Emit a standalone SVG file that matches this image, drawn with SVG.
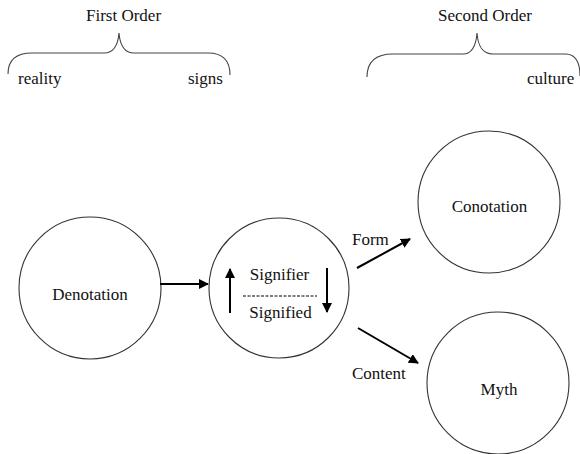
<svg xmlns="http://www.w3.org/2000/svg" width="580" height="454" viewBox="0 0 580 454" font-family="Liberation Serif, Times New Roman, DejaVu Serif, serif">
<style>
text{font-size:17px;fill:#111}
.c{fill:#fff;stroke:#333;stroke-width:1.1}
.b{fill:none;stroke:#444;stroke-width:1.1}
.a{stroke:#000;stroke-width:2;fill:none}
</style>
<defs>
<marker id="ah" viewBox="0 0 10 10" refX="9" refY="5" markerWidth="5" markerHeight="5" markerUnits="strokeWidth" orient="auto">
<path d="M0,0L10,5L0,10z" fill="#000"/>
</marker>
</defs>
<rect width="580" height="454" fill="#fff"/>
<g id="first-order">
<path class="b" d="M8,74 C8,60 16,53 32,53 L104,53 C114,53 118,45 119,33 C120,45 124,53 134,53 L208,53 C222,53 230,60 230,75"/>
<text x="86" y="21">First Order</text>
<text x="18" y="84">reality</text>
<text x="188" y="84">signs</text>
</g>
<g id="second-order">
<path class="b" d="M367,77 C367,62 376,54 393,54 L463,54 C472,54 476,46 477,33 C478,46 482,54 493,54 L565,54 C576,54 580,62 580,76"/>
<text x="438" y="21">Second Order</text>
<text x="527" y="84">culture</text>
</g>
<g id="denotation">
<circle class="c" cx="90" cy="288" r="71"/>
<text x="90" y="300" text-anchor="middle">Denotation</text>
</g>
<g id="sign">
<circle class="c" cx="279" cy="288" r="70"/>
<text x="279.5" y="280" text-anchor="middle">Signifier</text>
<line x1="243" y1="296" x2="317" y2="296" stroke="#000" stroke-width="1" stroke-dasharray="3,1.5"/>
<text x="280.5" y="318" text-anchor="middle">Signified</text>
<line class="a" x1="230" y1="313" x2="230" y2="269" marker-end="url(#ah)"/>
<line class="a" x1="327" y1="268" x2="327" y2="312" marker-end="url(#ah)"/>
</g>
<g id="conotation">
<circle class="c" cx="489" cy="202" r="71"/>
<text x="489.5" y="212" text-anchor="middle">Conotation</text>
</g>
<g id="myth">
<circle class="c" cx="498" cy="383" r="71"/>
<text x="499" y="395" text-anchor="middle">Myth</text>
</g>
<g id="connectors">
<line class="a" x1="160" y1="284" x2="208" y2="284" marker-end="url(#ah)"/>
<line class="a" x1="357" y1="268" x2="410" y2="239" marker-end="url(#ah)"/>
<line class="a" x1="358" y1="328" x2="418" y2="363" marker-end="url(#ah)"/>
<text x="352" y="245">Form</text>
<text x="352" y="379">Content</text>
</g>
</svg>
